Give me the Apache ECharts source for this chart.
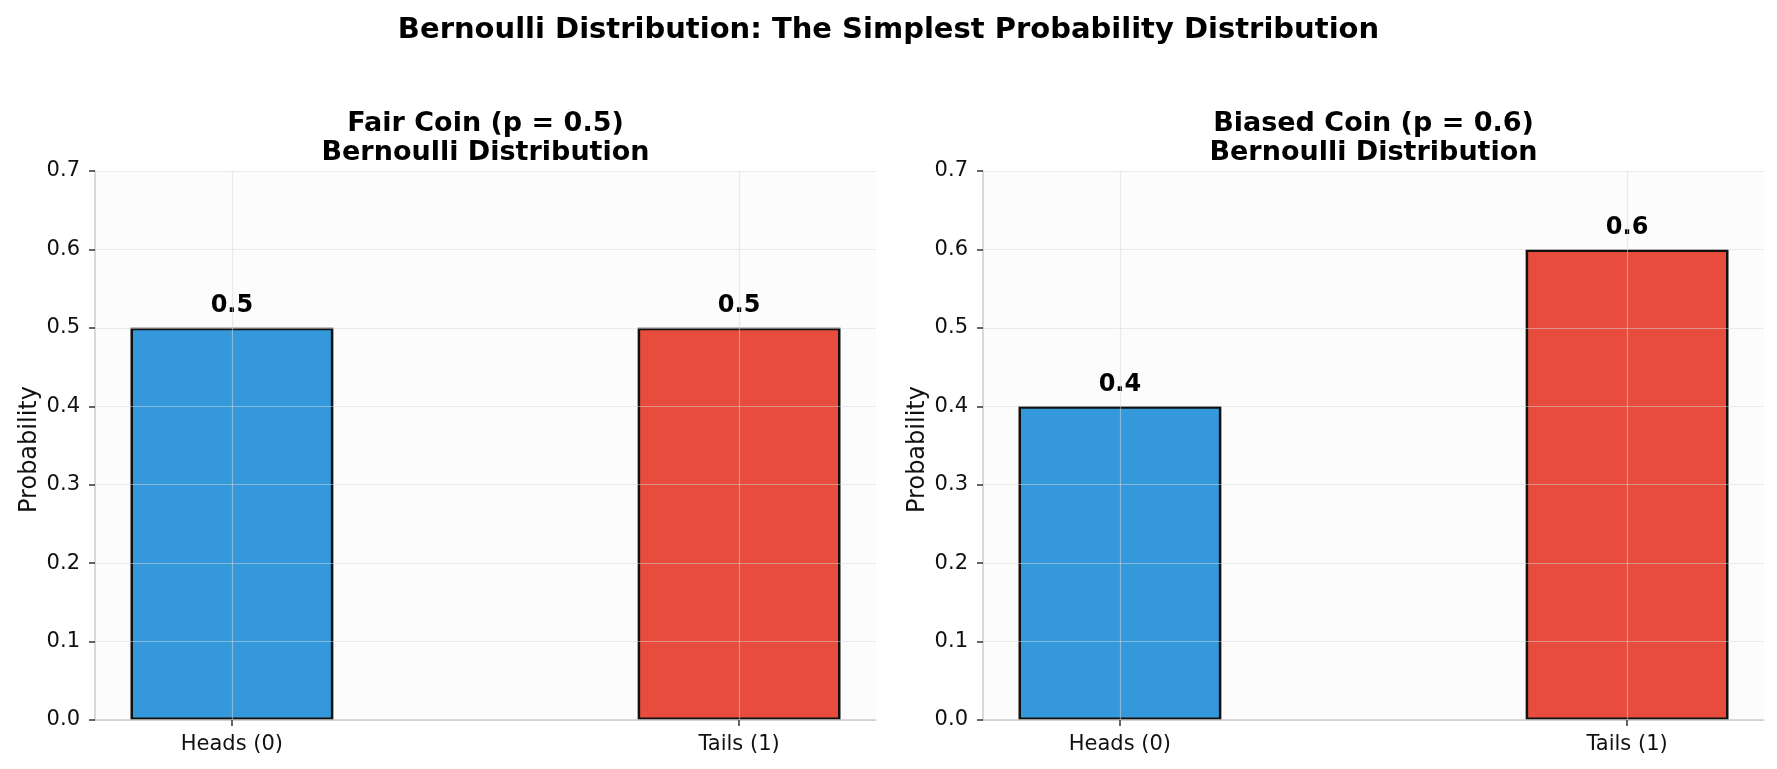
<!DOCTYPE html>
<html>
<head>
<meta charset="utf-8">
<title>Bernoulli Distribution</title>
<script src="https://cdn.jsdelivr.net/npm/echarts@6/dist/echarts.min.js"></script>
<style>
  html, body { margin: 0; padding: 0; background: #fff; }
  #main { width: 1777px; height: 769px; }
</style>
</head>
<body>
<div id="main"></div>
<script>
// data
var categories = ['Heads (0)', 'Tails (1)'];
var outcomes = [0, 1];
var fairProbs = [0.5, 0.5];
var biasedProbs = [0.4, 0.6];
var panelTitles = ['Fair Coin (p = 0.5)\nBernoulli Distribution', 'Biased Coin (p = 0.6)\nBernoulli Distribution'];

var barColors = ['#3498db', '#e74c3c'];
var FONT = 'DejaVu Sans';

var myChart = echarts.init(document.getElementById('main'));

var grids = [
    {left: 95, top: 171, width: 781, bottom: 49},
    {left: 983, top: 171, width: 781, bottom: 49}
];

function makeX(idx) {
    return {
        type: 'value',
        gridIndex: idx,
        min: -0.27,
        max: 1.27,
        z: 5,
        axisLine: {show: true, onZero: false, lineStyle: {color: '#cccccc', width: 1.5}},
        axisTick: {show: true, customValues: outcomes, length: 6, lineStyle: {color: '#333', width: 1.5}},
        axisLabel: {
            customValues: outcomes,
            margin: 14,
            color: '#111',
            fontFamily: FONT,
            fontSize: 21,
            formatter: function (v) { return categories[Math.round(v)]; }
        },
        splitLine: {show: true, lineStyle: {color: 'rgba(215,215,215,0.5)', width: 1.2}}
    };
}

function makeY(idx) {
    return {
        type: 'value',
        gridIndex: idx,
        min: 0,
        max: 0.7,
        interval: 0.1,
        z: 5,
        name: 'Probability',
        nameLocation: 'middle',
        nameGap: 53,
        nameTextStyle: {color: '#111', fontFamily: FONT, fontSize: 24, padding: [0, 8, 0, 0]},
        axisLine: {show: true, onZero: false, lineStyle: {color: '#cccccc', width: 1.5}},
        axisTick: {show: true, length: 6, lineStyle: {color: '#333', width: 1.5}},
        axisLabel: {
            margin: 15,
            color: '#111',
            fontFamily: FONT,
            fontSize: 21,
            formatter: function (v) { return v.toFixed(1); }
        },
        splitLine: {show: true, lineStyle: {color: 'rgba(215,215,215,0.5)', width: 1.2}}
    };
}

function makeSeries(idx, probs) {
    return {
        type: 'bar',
        xAxisIndex: idx,
        yAxisIndex: idx,
        barWidth: '40%',
        data: outcomes.map(function (x, i) {
            return {value: [x, probs[i]], itemStyle: {color: barColors[i]}};
        }),
        itemStyle: {borderColor: '#111', borderWidth: 2.5},
        label: {
            show: true,
            position: 'top',
            distance: 10,
            color: '#000',
            fontFamily: FONT,
            fontSize: 24,
            fontWeight: 'bold',
            formatter: function (p) { return String(p.value[1]); }
        }
    };
}

var option = {
    backgroundColor: '#ffffff',
    animation: false,
    title: {
        text: 'Bernoulli Distribution: The Simplest Probability Distribution',
        left: 'center',
        top: 11,
        textStyle: {color: '#000', fontFamily: FONT, fontSize: 29, fontWeight: 'bold'}
    },
    grid: grids.map(function (g) {
        return Object.assign({show: true, backgroundColor: '#fcfcfc', borderWidth: 0}, g);
    }),
    xAxis: [makeX(0), makeX(1)],
    yAxis: [makeY(0), makeY(1)],
    graphic: panelTitles.map(function (t, i) {
        return {
            type: 'text',
            x: grids[i].left + grids[i].width / 2,
            y: 138,
            style: {
                text: t,
                align: 'center',
                verticalAlign: 'middle',
                fill: '#000',
                font: 'bold 27px "DejaVu Sans"',
                lineHeight: 29
            }
        };
    }),
    series: [makeSeries(0, fairProbs), makeSeries(1, biasedProbs)]
};

myChart.setOption(option);
window.addEventListener('resize', function () {
    myChart.resize();
});
</script>
</body>
</html>
